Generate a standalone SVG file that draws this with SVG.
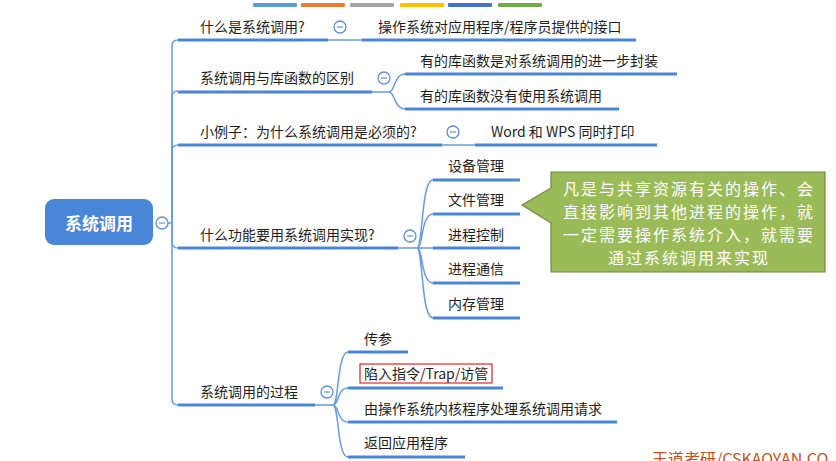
<svg xmlns="http://www.w3.org/2000/svg" width="836" height="461" viewBox="0 0 836 461">
<style>
.t{font-family:"Noto Sans CJK SC","Noto Sans",sans-serif;font-size:14px;fill:#1e1e1e}
.ul{stroke:#4a86d8;stroke-width:3;fill:none;stroke-linecap:butt}
.cn{stroke:#6a9be0;stroke-width:1.5;fill:none}
.cc{fill:#fff;stroke:#5b8fdc;stroke-width:1.3}
.cm{stroke:#7a9fd8;stroke-width:1.4}
.co{font-family:"Noto Sans CJK SC","Noto Sans",sans-serif;font-size:16px;letter-spacing:2px;fill:#fff}
</style>
<defs>
<g id="col"><circle class="cc" r="6"/><line class="cm" x1="-3" y1="0" x2="3" y2="0"/></g>
</defs>
<rect width="836" height="461" fill="#fff"/>
<g id="bars">
<rect x="253" y="3" width="44" height="4" rx="1" fill="#5b9bd5"/>
<rect x="301" y="3" width="44" height="4" rx="1" fill="#ed7d31"/>
<rect x="350" y="3" width="44" height="4" rx="1" fill="#a5a5a5"/>
<rect x="400" y="3" width="44" height="4" rx="1" fill="#ffc000"/>
<rect x="448" y="3" width="44" height="4" rx="1" fill="#4472c4"/>
<rect x="498" y="3" width="44" height="4" rx="1" fill="#70ad47"/>
</g>
<g id="connectors">
<path class="cn" d="M168,223 L172,223 M172,223 L172,46 Q172,40 178,40"/>
<path class="cn" d="M172,223 L172,97 Q172,91 178,91"/>
<path class="cn" d="M172,223 L172,151 Q172,145 178,145"/>
<path class="cn" d="M172,223 L172,242 Q172,248 178,248"/>
<path class="cn" d="M172,223 L172,399 Q172,405 178,405"/>
<path class="cn" d="M328,40 L362,40"/>
<path class="cn" d="M372,92 L389,92 C395,92 394,74 405,74 M389,92 C395,92 394,109 405,109"/>
<path class="cn" d="M442,145 L475,145"/>
<path class="cn" d="M398,248 L433,248 M417,248 C423,248 421,180 433,180 M417,248 C423,248 421,214 433,214 M417,248 C423,248 421,283 433,283 M417,248 C423,248 421,318 433,318"/>
<path class="cn" d="M315,405 L333,405 C339,405 337,352 348,352 M333,405 C339,405 337,388 348,388 M333,405 C339,405 337,422 348,422 M333,405 C339,405 337,457 348,457"/>
</g>
<g id="root">
<rect x="45" y="199" width="108" height="46" rx="9" fill="#4a86d8"/>
<text x="99" y="230" text-anchor="middle" style="font-family:'Noto Sans CJK SC',sans-serif;font-size:17px;font-weight:bold;fill:#fff">系统调用</text>
<use href="#col" x="162" y="223"/>
</g>
<g id="b1">
<text class="t" x="200" y="32">什么是系统调用?</text>
<line class="ul" x1="178" y1="40" x2="328" y2="40"/>
<use href="#col" x="340" y="27"/>
</g>
<g id="b1c1">
<text class="t" x="378" y="32">操作系统对应用程序/程序员提供的接口</text>
<line class="ul" x1="362" y1="40" x2="636" y2="40"/>
</g>
<g id="b2">
<text class="t" x="200" y="83">系统调用与库函数的区别</text>
<line class="ul" x1="178" y1="92" x2="372" y2="92"/>
<use href="#col" x="384" y="78"/>
</g>
<g id="b2c1">
<text class="t" x="420" y="66">有的库函数是对系统调用的进一步封装</text>
<line class="ul" x1="405" y1="74" x2="677" y2="74"/>
</g>
<g id="b2c2">
<text class="t" x="420" y="101">有的库函数没有使用系统调用</text>
<line class="ul" x1="405" y1="109" x2="619" y2="109"/>
</g>
<g id="b3">
<text class="t" x="200" y="137">小例子：为什么系统调用是必须的?</text>
<line class="ul" x1="178" y1="145" x2="442" y2="145"/>
<use href="#col" x="453" y="132"/>
</g>
<g id="b3c1">
<text class="t" x="491" y="137">Word 和 WPS 同时打印</text>
<line class="ul" x1="475" y1="145" x2="657" y2="145"/>
</g>
<g id="b4">
<text class="t" x="200" y="240">什么功能要用系统调用实现?</text>
<line class="ul" x1="178" y1="248" x2="398" y2="248"/>
<use href="#col" x="410" y="236"/>
</g>
<g id="b4c1"><text class="t" x="448" y="171">设备管理</text><line class="ul" x1="433" y1="180" x2="520" y2="180"/></g>
<g id="b4c2"><text class="t" x="448" y="205">文件管理</text><line class="ul" x1="433" y1="214" x2="520" y2="214"/></g>
<g id="b4c3"><text class="t" x="448" y="240">进程控制</text><line class="ul" x1="433" y1="248" x2="520" y2="248"/></g>
<g id="b4c4"><text class="t" x="448" y="274">进程通信</text><line class="ul" x1="433" y1="283" x2="520" y2="283"/></g>
<g id="b4c5"><text class="t" x="448" y="309">内存管理</text><line class="ul" x1="433" y1="318" x2="520" y2="318"/></g>
<g id="callout">
<path d="M551,172 L825,172 L825,272 L551,272 L551,223 L522,205 L551,188 Z" fill="#9bbb59" stroke="#71893f" stroke-width="1.2"/>
<text class="co" x="689" y="195" text-anchor="middle">凡是与共享资源有关的操作、会</text>
<text class="co" x="689" y="218" text-anchor="middle">直接影响到其他进程的操作，就</text>
<text class="co" x="689" y="241" text-anchor="middle">一定需要操作系统介入，就需要</text>
<text class="co" x="689" y="264" text-anchor="middle">通过系统调用来实现</text>
</g>
<g id="b5">
<text class="t" x="200" y="397">系统调用的过程</text>
<line class="ul" x1="178" y1="405" x2="315" y2="405"/>
<use href="#col" x="327" y="392"/>
</g>
<g id="b5c1"><text class="t" x="364" y="344">传参</text><line class="ul" x1="348" y1="352" x2="408" y2="352"/></g>
<g id="b5c2"><text class="t" x="364" y="379">陷入指令/Trap/访管</text><rect x="360" y="364" width="132" height="19" fill="none" stroke="#e52222" stroke-width="1.2"/><line class="ul" x1="348" y1="388" x2="503" y2="388"/></g>
<g id="b5c3"><text class="t" x="364" y="414">由操作系统内核程序处理系统调用请求</text><line class="ul" x1="348" y1="422" x2="617" y2="422"/></g>
<g id="b5c4"><text class="t" x="364" y="448">返回应用程序</text><line class="ul" x1="348" y1="457" x2="465" y2="457"/></g>
<text x="652" y="465" style="font-family:'Noto Sans CJK SC',sans-serif;font-size:16px;fill:#c8501e">王道考研/CSKAOYAN.CO</text>
</svg>
